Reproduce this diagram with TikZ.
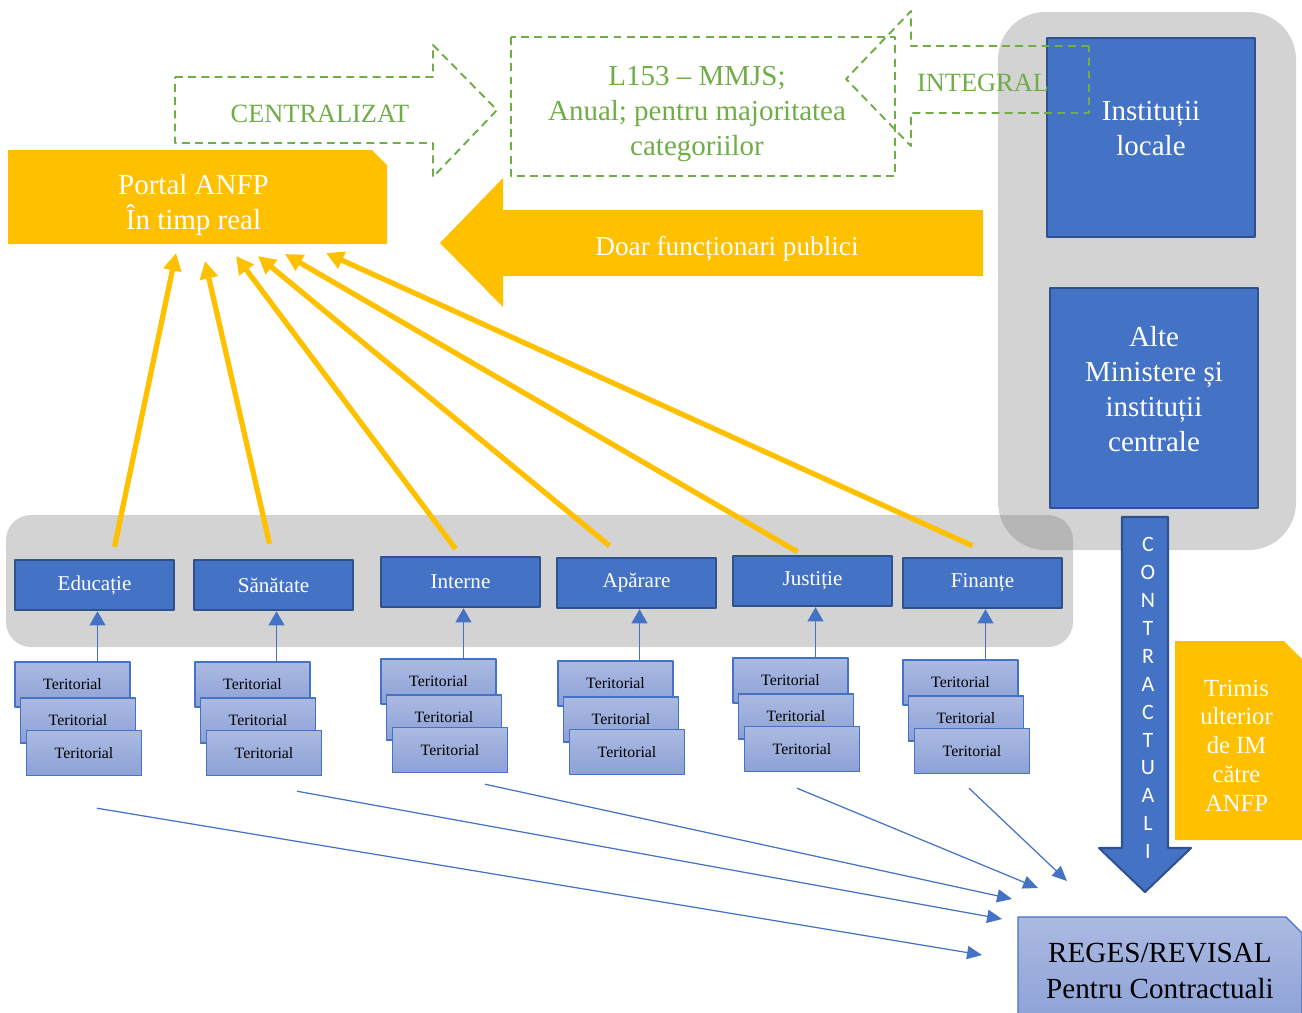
\documentclass[tikz,border=0pt]{standalone}
\usepackage{fontspec}
\setmainfont{Liberation Serif}
\newfontfamily\carlito{Carlito}
\usepackage{tikz}
\usetikzlibrary{positioning,calc,arrows.meta}

\definecolor{boxBlue}{HTML}{4472C4}
\definecolor{boxEdge}{HTML}{2F528F}
\definecolor{anfpOrange}{HTML}{FFC000}
\definecolor{dashGreen}{HTML}{70AD47}
\definecolor{terTop}{RGB}{172,186,226}
\definecolor{terBot}{RGB}{140,161,214}

\def\pxu{0.02cm}
% box with the top right corner cut off: node name, cut size
\newcommand\snipShape[2]{(#1.south west) -- (#1.north west) -- ($(#1.north east)+(-#2,0)$)
	-- ($(#1.north east)+(0,#2)$) -- (#1.south east) -- cycle}

\begin{document}
\begin{tikzpicture}[
					x=0.02cm,y=-0.02cm,
					>=Stealth,
					line join=round,
					minBox/.style={draw=boxEdge, line width=1.4pt, fill=boxBlue, text=white,
						minimum width=159*\pxu, minimum height=50*\pxu, inner sep=0pt,
						font=\fontsize{12}{14}\selectfont},
					terBox/.style={draw=boxBlue, line width=0.8pt, top color=terTop, bottom color=terBot,
						minimum width=115*\pxu, minimum height=45*\pxu, inner sep=0pt,
						font=\fontsize{9}{11}\selectfont},
					bigBox/.style={draw=boxEdge, line width=1.2pt, fill=boxBlue, inner sep=0pt},
					bigText/.style={text=white, align=center, font=\fontsize{16.5}{20}\selectfont},
					areaBox/.style={inner sep=0pt, outer sep=0pt},
					greenDash/.style={draw=dashGreen, line width=1.1pt, dash pattern=on 4.5pt off 3pt},
					greenText/.style={text=dashGreen, align=center},
					goldArrow/.style={draw=anfpOrange, line width=3pt, -{Triangle[length=10pt,width=10pt]}},
					upArrow/.style={draw=boxBlue, line width=0.7pt, -{Triangle[length=8pt,width=9pt]}},
					regArrow/.style={draw=boxBlue, line width=0.7pt, -{Triangle[length=8.5pt,width=7.5pt]}},
					grayZone/.style={fill=gray, fill opacity=0.35}
					]
					%----- page
					\useasboundingbox (0,0) rectangle (1302,1012);
					\clip (0,0) rectangle (1302,1012);
					
					%----- gray zones
					\path[grayZone, rounded corners=0.95cm] (998,12) rectangle (1296,550);
					\path[grayZone, rounded corners=0.5cm] (6,515) rectangle (1073,647);
					
					%----- institutions on the right
					\node[bigBox, minimum width=208*\pxu, minimum height=199*\pxu] (locale) at (1151,137.5) {};
					\node[bigText] (localeTxt) at ($(locale.center)+(0,-9)$) {Instituții\\locale};
					\node[bigBox, minimum width=208*\pxu, minimum height=220*\pxu] (centrale) at (1154,398) {};
					\node[bigText] (centraleTxt) at ($(centrale.center)+(0,-9)$)
					{Alte\\Ministere și\\instituții\\centrale};
					
					%----- dashed green arrows and box
					\draw[greenDash] (175,77) -- (433,77) -- (433,45) -- (497,110)
					-- (433,177) -- (433,143) -- (175,143) -- cycle;
					\node[greenText, font=\fontsize{15}{20}\selectfont] (centr) at (320,114) {CENTRALIZAT};
					
					\draw[greenDash] (511,37) rectangle (895,176);
					\node[greenText, font=\fontsize{16.5}{20}\selectfont] (lege) at (697,114)
					{L153 – MMJS;\\Anual; pentru majoritatea\\categoriilor};
					
					\draw[greenDash] (1089,46) -- (911,46) -- (911,11) -- (846,79)
					-- (911,146) -- (911,113) -- (1089,113) -- cycle;
					\node[greenText, font=\fontsize{15}{20}\selectfont] (integ) at (983,83) {INTEGRAL};
					
					%----- portal ANFP + big arrow
					\node[areaBox, minimum width=379*\pxu, minimum height=94*\pxu] (portal) at (197.5,197) {};
					\fill[anfpOrange] \snipShape{portal}{15};
					\node[bigText] (portalTxt) at ($(portal.center)+(-4,8)$) {Portal ANFP\\În timp real};
					
					\fill[anfpOrange] (440,243) -- (503,178) -- (503,210) -- (983,210)
					-- (983,276) -- (503,276) -- (503,307) -- cycle;
					\node[text=white, font=\fontsize{15.5}{20}\selectfont] (doar) at (727,249) {Doar funcționari publici};
					
					%----- ministries
					\node[minBox] (edu) at (94.5,585) {Educație};
					\node[minBox] (san) at (273.5,585) {Sănătate};
					\node[minBox] (int) at (460.5,582) {Interne};
					\node[minBox] (apa) at (636.5,583) {Apărare};
					\node[minBox] (jus) at (812.5,581) {Justiție};
					\node[minBox] (fin) at (982.5,583) {Finanțe};
					
					%----- territorial stacks
					\foreach \g/\gx/\gy in {edu/15/662, san/195/662, int/381/659, apa/558/661, jus/733/658, fin/903/660}{
						\node[terBox] (\g1) at (\gx+57.5,\gy+22.5) {Teritorial};
						\node[terBox] (\g2) at (\gx+63,\gy+58.5) {Teritorial};
						\node[terBox] (\g3) at (\gx+69,\gy+91) {Teritorial};
						\draw[upArrow] ($(\g1.north -| \g.south)+(3,0)$) -- ($(\g.south)+(3,0)$);
					}
					
					%----- arrows up to the portal
					\foreach \m/\sx/\sy/\ex/\ey in {edu/20/12/168/9, san/-4/15/197/17, int/-5/7/228/12,
						apa/-27/11/250/12, jus/-15/3/277/10, fin/-10/11/318/9}{
						\draw[goldArrow] ($(\m.north)+(\sx,-\sy)$) -- ($(portal.south west)+(\ex,\ey)$);
					}
					
					%----- contractuali arrow
					\draw[boxEdge, line width=1.2pt, fill=boxBlue] (1122,517) -- (1168,517) -- (1168,848)
					-- (1191,848) -- (1145,892) -- (1099,848) -- (1122,848) -- cycle;
					\node[text=white, align=center, font=\carlito\fontsize{12.5}{15.9}\selectfont] (contr)
					at (1148,698) {C\\O\\N\\T\\R\\A\\C\\T\\U\\A\\L\\I};
					
					%----- later sent box
					\node[areaBox, minimum width=127*\pxu, minimum height=199*\pxu] (trimis) at (1238.5,740.5) {};
					\fill[anfpOrange] \snipShape{trimis}{18};
					\node[text=white, align=center, font=\fontsize{14}{16.4}\selectfont] (trimisTxt)
					at ($(trimis.center)+(-2,5)$) {Trimis\\ulterior\\de IM\\către\\ANFP};
					
					%----- REGES
					\node[areaBox, minimum width=284*\pxu, minimum height=108*\pxu] (reges) at (1160,971) {};
					\draw[boxBlue, line width=0.8pt, top color=terTop, bottom color=terBot] \snipShape{reges}{16};
					\node[align=center, font=\fontsize{16.6}{21}\selectfont] (regesTxt) at (reges.center)
					{REGES/REVISAL\\Pentru Contractuali};
					
					%----- arrows down to REGES
					\foreach \g/\sx/\sy/\ex/\ey in {edu/13/32/-36/38, san/33/15/-16/2, int/35/11/-6/-18,
						jus/-5/16/20/-29, fin/-3/14/49/-36}{
						\draw[regArrow] ($(\g3.south)+(\sx,\sy)$) -- ($(reges.north west)+(\ex,\ey)$);
					}
					
				\end{tikzpicture}
\end{document}
